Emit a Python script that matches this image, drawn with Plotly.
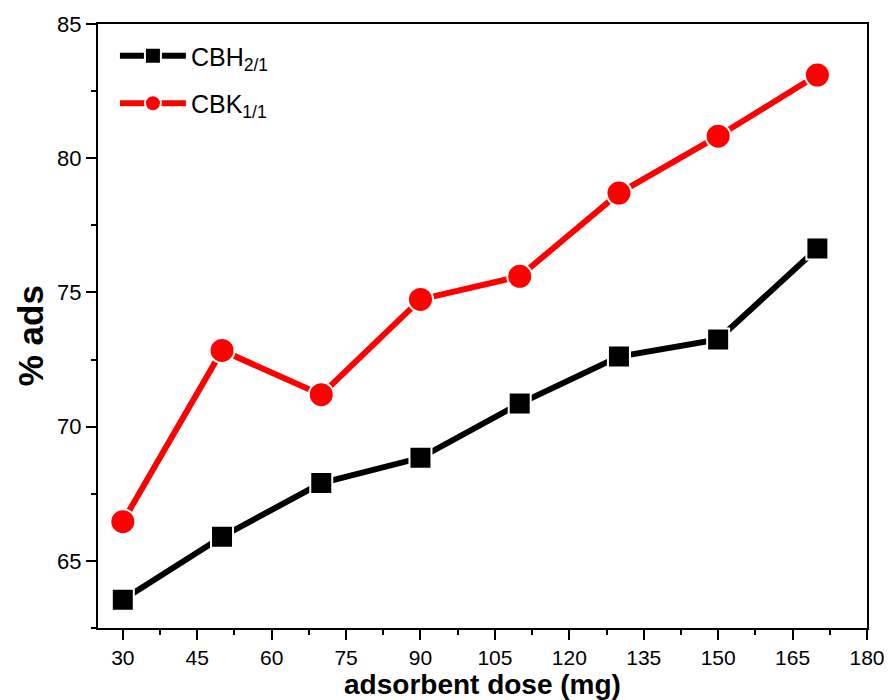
import plotly.graph_objects as go

dose = [30, 50, 70, 90, 110, 130, 150, 170]
cbh = [63.55, 65.9, 67.9, 68.84, 70.86, 72.61, 73.25, 76.64]
cbk = [66.46, 72.84, 71.19, 74.74, 75.6, 78.7, 80.82, 83.1]

fig = go.Figure()
fig.add_trace(go.Scatter(x=dose, y=cbh, mode="lines+markers", name="CBH<sub>2/1</sub>",
                         legendgroup="a",
                         line=dict(color="black", width=6),
                         marker=dict(symbol="square", size=22, color="black",
                                     line=dict(color="white", width=2))))
fig.add_trace(go.Scatter(x=dose, y=cbk, mode="lines+markers", name="CBK<sub>1/1</sub>",
                         legendgroup="b",
                         line=dict(color="red", width=6),
                         marker=dict(symbol="circle", size=25, color="red",
                                     line=dict(color="white", width=2))))

axis_common = dict(showline=True, linecolor="black", linewidth=2, mirror=True,
                   ticks="outside", tickcolor="black", tickwidth=2, ticklen=10,
                   showgrid=False, zeroline=False, automargin=False)

fig.update_xaxes(range=[25, 180], tickmode="linear", tick0=30, dtick=15,
                 minor=dict(ticks="outside", tickwidth=2, ticklen=5, tickcolor="black", dtick=7.5, tick0=30),
                 tickfont=dict(family="Liberation Sans, Arial", size=21, color="black"),
                 title=dict(text="<b>adsorbent dose (mg)</b>", standoff=5,
                            font=dict(family="Liberation Sans, Arial", size=28, color="black")),
                 **axis_common)
fig.update_yaxes(range=[62.5, 85], tickmode="linear", tick0=65, dtick=5,
                 minor=dict(ticks="outside", tickwidth=2, ticklen=5, tickcolor="black", dtick=2.5, tick0=65),
                 tickfont=dict(family="Liberation Sans, Arial", size=22, color="black"),
                 **axis_common)

fig.add_annotation(text="<b>% ads</b>", xref="paper", yref="paper", x=0, y=0.483,
                   xanchor="center", yanchor="middle", xshift=-68, textangle=-90,
                   showarrow=False,
                   font=dict(family="Liberation Sans, Arial", size=35, color="black"))

fig.update_layout(width=888, height=700, plot_bgcolor="white", paper_bgcolor="white",
                  margin=dict(l=98, r=21, t=24, b=72),
                  legend=dict(x=0.022, y=0.985, xanchor="left", yanchor="top",
                              bgcolor="rgba(0,0,0,0)", traceorder="grouped",
                              font=dict(family="Liberation Sans, Arial", size=25, color="black"),
                              itemwidth=66, tracegroupgap=12),
                  showlegend=True)

fig.write_html("out.html")
